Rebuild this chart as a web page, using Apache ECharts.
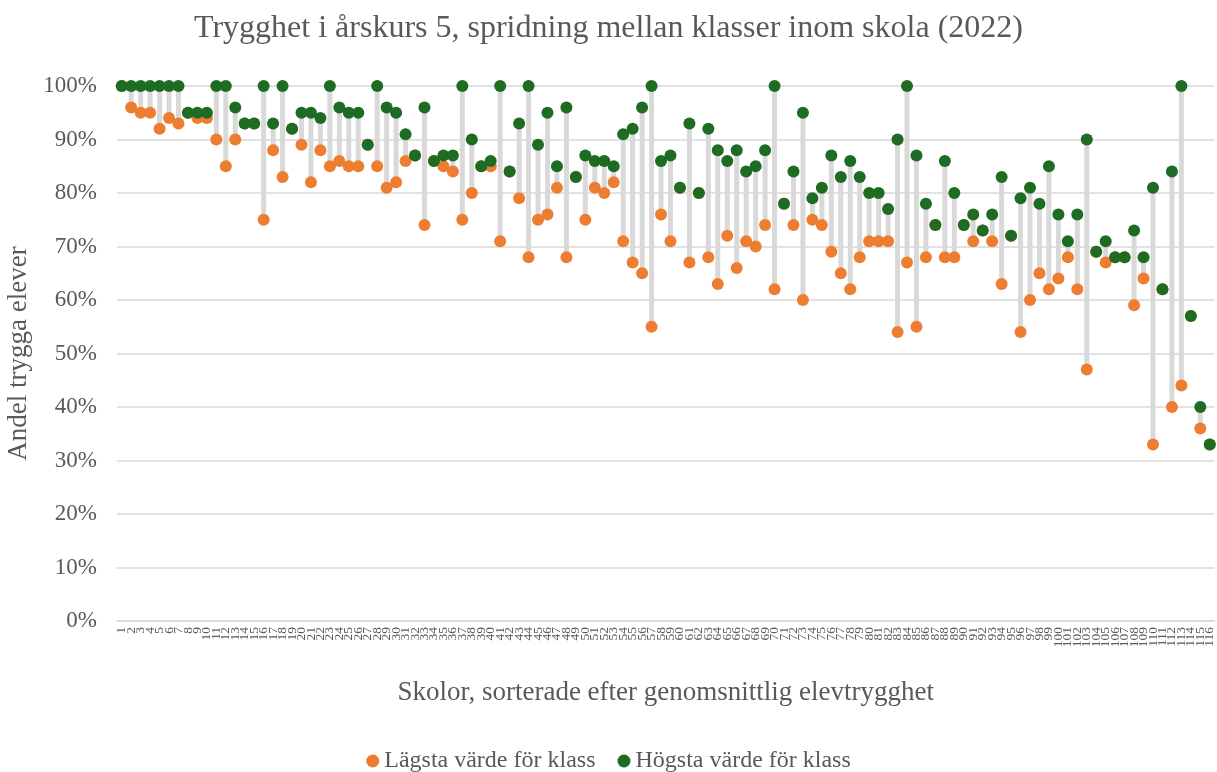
<!DOCTYPE html>
<html>
<head>
<meta charset="utf-8">
<script src="https://cdn.jsdelivr.net/npm/echarts@6/dist/echarts.min.js"></script>
<style>
  html, body { margin: 0; padding: 0; background: #fff; }
  #chart { width: 1217px; height: 772px; }
</style>
</head>
<body>
<div id="chart"></div>
<script>
const categories = Array.from({length: 116}, (_, i) => String(i + 1));

const minValues = [
  100, 96, 95, 95, 92, 94, 93, 95, 94, 94,
  90, 85, 90, 93, 93, 75, 88, 83, 92, 89,
  82, 88, 85, 86, 85, 85, 89, 85, 81, 82,
  86, 87, 74, 86, 85, 84, 75, 80, 85, 85,
  71, 84, 79, 68, 75, 76, 81, 68, 83, 75,
  81, 80, 82, 71, 67, 65, 55, 76, 71, 81,
  67, 80, 68, 63, 72, 66, 71, 70, 74, 62,
  78, 74, 60, 75, 74, 69, 65, 62, 68, 71,
  71, 71, 54, 67, 55, 68, 74, 68, 68, 74,
  71, 73, 71, 63, 72, 54, 60, 65, 62, 64,
  68, 62, 47, 69, 67, 68, 68, 59, 64, 33,
  62, 40, 44, 57, 36, 33
];

const maxValues = [
  100, 100, 100, 100, 100, 100, 100, 95, 95, 95,
  100, 100, 96, 93, 93, 100, 93, 100, 92, 95,
  95, 94, 100, 96, 95, 95, 89, 100, 96, 95,
  91, 87, 96, 86, 87, 87, 100, 90, 85, 86,
  100, 84, 93, 100, 89, 95, 85, 96, 83, 87,
  86, 86, 85, 91, 92, 96, 100, 86, 87, 81,
  93, 80, 92, 88, 86, 88, 84, 85, 88, 100,
  78, 84, 95, 79, 81, 87, 83, 86, 83, 80,
  80, 77, 90, 100, 87, 78, 74, 86, 80, 74,
  76, 73, 76, 83, 72, 79, 81, 78, 85, 76,
  71, 76, 90, 69, 71, 68, 68, 73, 68, 81,
  62, 84, 100, 57, 40, 33
];

const yTicks = [0, 10, 20, 30, 40, 50, 60, 70, 80, 90, 100];

const FONT = '"Liberation Serif", "Times New Roman", serif';
const TEXT = '#595959';
const ORANGE = '#ED7D31';
const GREEN = '#1E6B23';

const rangeData = categories.map((c, i) => [i, minValues[i], maxValues[i]]);

const chart = echarts.init(document.getElementById('chart'), null, {renderer: 'canvas'});
chart.setOption({
  animation: false,
  backgroundColor: '#ffffff',
  title: {
    text: 'Trygghet i årskurs 5, spridning mellan klasser inom skola (2022)',
    left: 'center',
    top: 8,
    textStyle: { fontFamily: FONT, fontSize: 32, fontWeight: 'normal', color: TEXT }
  },
  legend: {
    data: ['Lägsta värde för klass', 'Högsta värde för klass'],
    top: 744,
    left: 'center',
    icon: 'circle',
    itemWidth: 13,
    itemHeight: 13,
    itemGap: 22,
    textStyle: { fontFamily: FONT, fontSize: 24, color: TEXT }
  },
  grid: { left: 117, right: 2.5, top: 86, bottom: 151, containLabel: false, outerBoundsMode: 'none' },
  xAxis: {
    type: 'category',
    data: categories,
    boundaryGap: true,
    name: 'Skolor, sorterade efter genomsnittlig elevtrygghet',
    nameLocation: 'middle',
    nameGap: 58,
    nameTextStyle: { fontFamily: FONT, fontSize: 27, color: TEXT },
    axisLine: { show: true, lineStyle: { color: '#D9D9D9', width: 1.5 } },
    axisTick: { show: false },
    axisLabel: {
      interval: 0,
      rotate: 90,
      fontFamily: FONT,
      fontSize: 13.5,
      color: TEXT,
      margin: 6
    }
  },
  yAxis: {
    type: 'value',
    min: 0,
    max: 100,
    interval: 10,
    name: 'Andel trygga elever',
    nameLocation: 'middle',
    nameGap: 83,
    nameTextStyle: { fontFamily: FONT, fontSize: 27, color: TEXT },
    axisLine: { show: false },
    axisTick: { show: false },
    splitLine: { show: true, lineStyle: { color: '#D9D9D9', width: 1.5 } },
    axisLabel: {
      formatter: v => yTicks.includes(v) ? v + '%' : '',
      fontFamily: FONT,
      fontSize: 23,
      color: TEXT,
      margin: 20
    }
  },
  series: [
    {
      name: 'range',
      type: 'custom',
      data: rangeData,
      encode: { x: 0, y: [1, 2] },
      z: 1,
      silent: true,
      renderItem: function (params, api) {
        const x = api.value(0);
        const lo = api.coord([x, api.value(1)]);
        const hi = api.coord([x, api.value(2)]);
        return {
          type: 'rect',
          shape: { x: lo[0] - 2.5, y: hi[1], width: 5, height: lo[1] - hi[1] },
          style: { fill: '#D9D9D9' }
        };
      }
    },
    {
      name: 'Lägsta värde för klass',
      type: 'scatter',
      data: minValues,
      symbol: 'circle',
      symbolSize: 12,
      itemStyle: { color: ORANGE, opacity: 1 },
      z: 2
    },
    {
      name: 'Högsta värde för klass',
      type: 'scatter',
      data: maxValues,
      symbol: 'circle',
      symbolSize: 12,
      itemStyle: { color: GREEN, opacity: 1 },
      z: 3
    }
  ]
});
</script>
</body>
</html>
